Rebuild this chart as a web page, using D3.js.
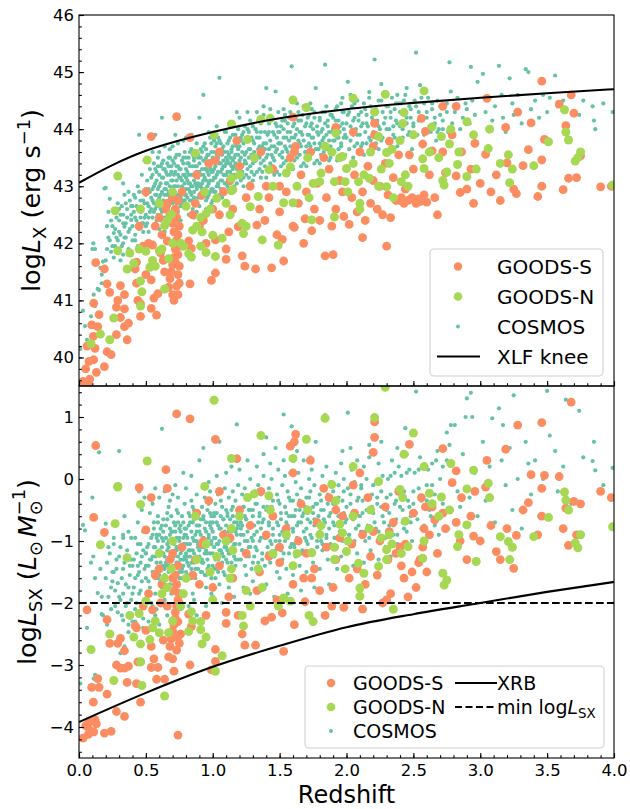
<!DOCTYPE html>
<html>
<head>
<meta charset="utf-8">
<script src="https://cdn.jsdelivr.net/npm/d3@7"></script>
<style>
body { margin: 0; background: #fff; }
svg text { font-family: "DejaVu Sans", sans-serif; fill: #000; }
</style>
</head>
<body>
<div id="chart"></div>
<script>
// ---- data: [redshift, logLX, logLSX] ----
var goodsS = [
  [0.03,39.58,-4.18],[0.07,39.54,-4.12],[0.08,39.62,-4.05],[0.05,39.8,-3.98],[0.075,39.93,-3.92],[0.11,39.96,-4.08],
  [0.13,39.74,-3.95],[0.19,39.84,-4.1],[0.12,40.16,-3.88],[0.107,40.37,-3.6],[0.095,40.57,-3.36],[0.14,40.54,-3.22],
  [0.21,40.1,-3.47],[0.24,40.05,-4.07],[0.28,40.4,-3.75],[0.34,40.54,-3.83],[0.36,40.31,-3.28],[0.28,40.88,-3.0],
  [0.34,40.85,-2.77],[0.31,41.26,-2.57],[0.34,41.1,-3.05],[0.23,41.14,-2.65],[0.21,41.29,-2.27],[0.125,41.66,0.54],
  [0.15,40.75,-3.36],[0.11,40.95,-0.62],[0.19,41.55,-0.86],[0.06,40.2,-2.11],[0.29,41.0,-2.65],[0.37,40.6,-3.02],
  [0.31,40.7,-3.05],
  [0.42,41.55,-2.37],[0.43,41.67,-2.4],[0.43,41.3,-3.3],[0.46,40.94,-2.95],[0.46,40.72,-3.6],[0.44,41.0,-2.95],
  [0.5,41.45,-2.44],[0.54,40.86,-3.04],[0.56,41.04,-2.9],[0.58,40.74,-3.23],[0.54,41.36,-2.7],[0.55,41.97,-2.11],
  [0.59,41.12,-3.04],[0.61,41.83,-2.0],[0.62,42.15,-1.7],[0.6,42.45,-1.45],[0.57,42.3,-1.55],[0.52,42.0,-1.85],
  [0.48,41.95,-2.05],[0.64,41.5,-3.23],[0.63,41.7,-2.6],[0.54,43.87,-0.3],[0.5,42.9,-0.82],[0.45,42.3,-0.14],
  [0.66,42.04,-2.05],[0.67,41.23,-2.87],[0.68,41.38,-2.7],[0.69,41.5,-2.58],[0.7,41.1,-2.9],[0.7,41.62,-2.45],
  [0.71,41.75,-2.35],[0.72,41.67,-2.25],[0.72,41.9,-2.15],[0.73,41.25,-2.76],[0.73,42.05,-2.05],[0.74,41.45,-2.55],
  [0.74,41.8,-2.3],[0.74,42.15,-1.95],[0.74,41.1,-4.13],[0.75,42.3,-1.85],[0.73,42.45,-1.7],[0.72,42.6,-1.55],
  [0.74,42.75,-1.4],[0.71,42.2,-1.8],[0.75,41.3,-2.65],[0.76,41.95,-2.5],[0.68,42.5,-1.3],[0.7,42.35,-1.6],
  [0.73,44.22,1.05],[0.77,42.9,-1.1],[0.71,41.0,-3.1],[0.75,41.6,-2.0],[0.7,42.8,-1.2],[0.65,42.6,0.15],[0.66,42.7,-0.15],
  [0.82,42.04,-2.18],[0.84,41.91,-2.38],[0.83,41.29,-3.0],[0.85,42.5,-1.55],[0.87,42.7,-1.3],[0.83,43.85,0.97],
  [0.9,42.3,-1.7],[0.92,42.85,-1.05],[0.95,42.0,-2.2],[0.99,41.35,-3.08],[1.02,41.48,-2.94],[1.02,42.06,-2.75],
  [1.05,42.5,-1.4],[1.08,42.9,-0.9],[1.1,41.72,-2.33],[1.1,41.9,-2.15],[1.12,42.2,-1.9],[1.13,43.1,-0.95],
  [1.15,42.6,-1.6],[1.19,42.29,-2.2],[1.2,43.35,-0.5],[1.22,41.78,-2.5],[1.24,41.6,-2.68],[1.25,42.8,-1.2],
  [1.28,43.0,-0.75],[0.97,43.4,-0.35],[1.05,43.6,-0.2],[1.18,43.8,0.33],[0.88,43.2,-0.55],[1.0,42.6,-1.75],
  [1.02,43.45,0.64],[0.93,42.4,-1.0],
  [1.32,41.55,-2.68],[1.33,42.32,-1.8],[1.35,42.6,-1.5],[1.39,42.4,-2.29],[1.4,43.0,-0.9],[1.42,42.8,-1.25],
  [1.44,41.57,-2.23],[1.45,43.3,-0.6],[1.48,42.15,-1.95],[1.5,42.55,-1.35],[1.52,42.07,-2.16],[1.53,41.69,-2.78],
  [1.55,42.9,-0.8],[1.58,43.5,0.53],[1.6,42.3,-1.7],[1.61,42.28,-2.35],[1.62,43.7,0.72],[1.61,43.6,0.6],
  [1.64,42.7,-1.0],[1.66,43.2,-0.4],[1.69,42.43,-1.98],[1.7,42.9,-1.2],[1.73,43.6,0.3],[1.74,42.22,-1.6],
  [1.76,42.6,-1.45],[1.78,43.05,-0.7],[1.8,42.4,-1.8],[1.84,41.78,-2.2],[1.85,42.8,-1.1],[1.87,43.3,-0.3],
  [1.89,42.3,-2.05],[1.9,41.8,-1.75],[1.92,42.6,-1.3],[1.95,43.1,-0.95],[1.98,42.47,-2.07],[1.97,42.9,-0.6],
  [1.5,43.0,-1.1],[1.36,43.6,-0.2],[1.6,44.21,0.1],[1.83,43.5,-0.15],[1.68,42.0,-1.6],[1.92,44.03,-0.5],
  [2.02,42.33,-1.6],[2.04,42.8,-1.05],[2.06,43.2,-0.55],[2.08,42.55,-1.45],[2.1,43.6,0.1],[2.12,42.9,-0.9],
  [2.14,42.4,-1.7],[2.16,43.35,-0.3],[2.18,42.7,-1.25],[2.2,43.1,-0.85],[2.21,43.9,0.67],[2.21,44.1,0.92],
  [2.2,43.7,0.43],[2.23,42.6,-1.55],[2.25,43.0,-1.0],[2.27,42.5,-2.0],[2.29,43.4,-0.45],[2.31,42.85,-1.3],
  [2.32,43.79,-0.85],[2.33,42.45,-1.85],[2.35,43.15,-0.7],[2.37,42.75,-1.2],[2.39,43.55,-0.2],[2.41,42.8,-1.4],
  [2.43,42.7,-1.6],[2.44,42.95,-1.05],[2.46,42.75,-1.9],[2.47,43.55,0.56],[2.49,42.8,-1.5],[2.5,43.3,-0.55],
  [2.52,42.7,-1.75],[2.54,42.78,-1.35],[2.56,44.19,-0.3],[2.57,43.74,-1.1],[2.58,42.85,-0.8],[2.59,43.96,-0.45],
  [2.6,42.72,-1.5],[2.62,43.2,-0.9],[2.64,43.62,-0.45],[2.66,42.8,-0.66],[2.68,42.5,-1.2],[2.3,41.95,-1.95],
  [2.12,42.1,-2.1],[2.4,42.75,-1.1],[2.55,42.73,-1.3],[2.05,43.95,-0.1],
  [2.72,44.4,0.49],[2.72,43.6,-0.55],[2.74,43.24,-0.8],[2.79,43.9,-0.06],[2.82,44.4,0.13],[2.82,43.18,-0.7],
  [2.85,42.89,-1.0],[2.86,43.6,-0.3],[2.9,42.95,-1.3],[2.93,43.3,-0.6],[2.95,42.7,-0.92],[2.96,43.75,-0.2],
  [3.0,43.05,-1.0],[3.04,43.56,-0.13],[3.05,44.54,0.3],[3.08,42.9,-0.75],[3.12,43.2,-1.17],[3.15,42.75,-1.3],
  [3.19,44.03,0.48],[3.2,43.41,-0.8],[3.25,42.95,-1.44],[3.27,42.87,-0.91],[3.28,44.3,0.87],[3.32,43.36,-0.5],
  [3.36,43.64,-0.38],[3.38,44.11,0.07],[3.43,42.82,-0.9],[3.46,43.46,-0.15],[3.46,44.84,0.91],[3.46,43.0,-0.6],
  [3.48,43.82,0.06],[3.59,44.44,0.04],[3.62,42.94,-0.8],[3.64,44.06,-0.47],[3.66,43.14,-1.07],[3.68,44.6,1.24],
  [3.7,44.28,-0.36],[3.72,43.15,-0.9],[3.75,43.53,-0.4],[3.9,42.99,-0.2],[3.98,43.0,-0.3]
];

var goodsN = [
  [0.09,40.24,-2.75],[0.16,40.41,-1.06],[0.23,40.31,-2.5],[0.26,40.69,-3.25],[0.29,41.87,-0.13],[0.27,42.57,-0.72],
  [0.36,41.55,-1.27],[0.38,41.83,-2.2],[0.41,41.65,-2.55],[0.46,41.34,-2.66],[0.47,41.15,-3.33],[0.46,40.9,-2.95],
  [0.45,41.9,-2.17],[0.29,43.18,-0.12],[0.5,41.86,-1.97],[0.51,43.46,0.29],[0.46,42.6,-0.41],
  [0.53,41.58,-2.59],[0.55,41.7,-2.4],[0.57,41.6,-2.29],[0.6,41.87,-2.48],[0.62,41.9,-1.85],[0.64,41.2,-3.5],
  [0.64,42.31,-1.6],[0.66,42.4,-1.75],[0.67,41.73,-2.48],[0.69,42.51,-1.45],[0.7,42.0,-2.29],[0.76,42.0,-2.05],
  [0.78,41.95,-1.85],[0.82,41.82,-2.46],[0.84,41.76,-2.14],[0.85,42.23,-2.29],[0.87,43.58,-0.6],[0.88,42.3,-1.3],
  [0.91,42.45,-2.3],[0.91,41.95,-2.43],[0.92,42.2,-2.66],[0.94,42.9,-0.12],[0.95,42.52,-1.05],[0.95,41.84,-2.55],
  [0.98,42.6,-1.5],[0.7,42.9,-1.0],[0.6,42.7,-1.2],[0.8,42.65,-1.6],
  [1.0,42.14,-1.95],[1.01,43.9,1.27],[1.02,41.77,-3.1],[1.03,42.79,-1.25],[1.07,42.09,-2.85],[1.1,42.7,-1.0],
  [1.13,42.5,-1.6],[1.14,44.09,0.33],[1.14,43.14,-0.8],[1.14,42.92,-1.45],[1.15,42.94,-1.15],[1.2,43.2,-0.6],
  [1.22,42.35,-2.2],[1.23,42.17,-2.37],[1.25,42.3,-1.8],[1.26,43.82,-0.3],[1.28,42.64,-2.05],[1.31,43.5,-0.24],
  [1.34,42.82,-1.45],[1.36,44.17,0.7],[1.37,42.06,-1.75],[1.42,43.29,-0.27],[1.43,44.19,-0.5],[1.45,43.0,-1.2],
  [1.49,41.97,-2.05],
  [1.53,42.71,-1.92],[1.55,43.23,-0.9],[1.58,43.34,-1.97],[1.6,42.71,-1.4],[1.6,44.51,0.33],[1.63,43.0,-1.2],
  [1.7,44.38,0.64],[1.71,43.5,-0.5],[1.72,42.8,-2.2],[1.74,42.41,-1.19],[1.75,43.05,-2.3],[1.8,43.08,-0.9],
  [1.81,43.23,-0.75],[1.84,43.7,0.98],[1.89,43.6,-0.09],[1.91,42.46,-1.3],[1.91,43.08,-1.1],[1.92,43.93,-0.35],
  [1.95,43.5,-0.73],[1.97,43.52,-0.87],[1.99,43.08,-1.45],
  [2.0,43.31,-1.17],[2.01,42.9,-1.0],[2.05,43.4,-0.6],[2.05,44.54,0.2],[2.09,43.08,-1.36],[2.1,42.7,-1.76],
  [2.1,42.6,-1.89],[2.13,43.2,-1.52],[2.17,43.14,-0.8],[2.18,43.6,-0.5],[2.21,44.3,0.99],[2.24,43.87,-0.04],
  [2.24,43.0,-1.41],[2.26,43.3,-0.95],[2.29,44.61,1.48],[2.3,43.59,-1.14],[2.3,42.99,-1.3],[2.32,43.4,-0.9],
  [2.34,43.65,-1.05],[2.35,42.8,-2.1],[2.4,43.8,-0.17],[2.41,43.08,-1.2],[2.42,44.1,-0.3],[2.43,44.29,0.4],
  [2.44,43.2,-0.68],[2.46,43.0,-1.09],[2.5,43.9,0.74],
  [2.57,43.48,-1.28],[2.58,44.67,0.2],[2.58,43.31,-1.0],[2.62,43.6,-0.23],[2.64,44.04,-0.4],[2.69,43.5,-0.6],
  [2.71,43.87,-0.29],[2.72,43.1,-1.52],[2.73,43.02,-1.71],[2.75,43.25,-1.63],[2.77,43.74,-0.5],[2.78,44.0,0.25],
  [2.83,43.38,-1.09],[2.84,43.6,-0.9],[2.9,44.13,-0.16],[2.9,43.17,-0.74],[2.95,43.9,0.14],[2.97,43.3,-1.33],
  [3.06,43.66,-0.07],[3.07,44.0,-0.3],[3.15,43.4,-0.93],[3.21,43.55,-1.01],[3.22,43.06,-1.3],[3.24,43.3,-1.1],
  [3.4,43.36,-0.93],[3.51,43.78,-0.62],[3.63,44.34,-0.21],[3.64,43.95,-0.34],[3.66,43.81,-0.5],[3.71,43.44,-1.03],
  [3.73,43.5,-1.11],[3.75,43.6,-0.9],[3.99,43.02,-0.77]
];

var cosmos = [
  [0.01,40.15,-3.3],[0.03,40.82,-0.74],[0.045,40.55,-0.83],[0.06,40.31,-2.4],[0.09,40.72,-1.35],
  [0.1,41.9,-0.3],[0.107,42.0,-1.25],[0.11,41.1,-3.22],[0.12,41.9,-1.6],[0.14,41.2,-1.84],[0.15,41.18,0.43],
  [0.17,41.45,-1.9],[0.18,41.68,-2.2],[0.19,42.96,-0.9],[0.16,41.57,-1.45],
  [0.2,42.97,-0.72],[0.2,41.7,-1.6],[0.21,41.9,-2.35],[0.22,42.1,-1.1],[0.23,42.78,-2.5],[0.24,41.85,-1.75],
  [0.25,42.3,-1.5],[0.26,42.18,-0.95],[0.27,41.95,-2.05],[0.28,42.45,-1.3],[0.29,42.05,-1.68],[0.3,42.6,0.45],
  [0.3,42.2,-1.9],[0.31,42.5,-1.1],[0.32,41.95,-2.2],[0.33,42.35,-1.45],[0.34,42.29,-0.6],[0.35,42.7,-1.25],
  [0.35,42.1,-1.7],[0.36,42.45,-2.0],[0.37,42.9,-0.85],[0.38,42.25,-1.55],[0.39,42.41,-1.3],[0.39,42.65,-1.95],
  [0.33,43.05,-0.95],[0.37,41.9,-2.35],
  [0.4,42.3,-1.4],[0.41,42.55,-1.75],[0.42,42.8,-0.95],[0.42,42.15,-2.1],[0.43,42.4,-1.2],[0.44,43.0,-0.7],
  [0.44,42.6,-1.55],[0.45,42.25,-1.85],[0.46,42.75,-1.05],[0.46,42.45,-1.35],[0.47,42.59,-1.65],[0.47,43.2,-0.5],
  [0.48,42.9,-1.15],[0.48,42.35,-2.25],[0.49,42.7,-1.45],[0.49,43.45,-0.3],[0.45,43.9,-0.2],
  [0.5,42.5,-1.6],[0.5,42.85,-1.2],[0.51,43.1,-0.85],[0.51,42.35,-1.9],[0.52,42.65,-1.4],[0.52,42.95,-1.05],
  [0.53,43.3,-0.55],[0.53,42.55,-1.75],[0.54,42.8,-1.3],[0.54,43.15,-0.95],[0.55,42.45,-2.05],[0.55,42.95,-1.5],
  [0.56,42.7,-1.1],[0.56,43.4,-0.7],[0.57,42.6,-1.85],[0.57,43.05,-1.25],[0.58,42.85,-0.9],[0.58,43.25,-1.45],
  [0.59,42.5,-1.6],[0.59,42.75,-1.0],[0.55,43.6,-0.4],[0.57,43.9,-0.15],[0.52,42.2,-2.3],[0.58,42.4,-2.1],
  [0.59,43.5,-0.6],
  [0.6,42.65,-1.55],[0.6,43.0,-1.15],[0.61,42.85,-1.35],[0.61,43.35,-0.8],[0.62,42.55,-1.75],[0.62,43.15,-0.95],
  [0.63,42.75,-1.2],[0.63,43.45,-0.65],[0.64,42.95,-1.45],[0.64,42.45,-1.95],[0.65,43.25,-0.75],[0.65,42.7,-1.6],
  [0.66,43.05,-1.05],[0.66,42.6,-1.3],[0.67,43.5,-0.45],[0.67,42.9,-1.5],[0.68,42.8,-0.9],[0.68,43.2,-1.25],
  [0.69,42.5,-1.85],[0.69,43.1,-0.6],[0.6,43.6,-0.3],[0.62,44.2,0.81],[0.64,43.7,-0.2],[0.66,42.35,-2.2],
  [0.68,43.65,-0.35],[0.61,42.4,-1.7],[0.63,43.3,-1.0],[0.65,42.95,-1.4],[0.67,42.75,-1.1],[0.69,43.35,-0.85],
  [0.66,43.4,-0.55],
  [0.7,42.7,-1.4],[0.7,43.1,-1.0],[0.71,42.9,-1.25],[0.71,43.4,-0.7],[0.72,42.6,-1.6],[0.72,43.25,-0.85],
  [0.73,42.8,-1.1],[0.73,43.55,-0.5],[0.74,43.0,-1.35],[0.74,42.55,-1.8],[0.75,43.3,-0.95],[0.75,42.85,-1.5],
  [0.76,43.15,-0.75],[0.76,42.65,-1.2],[0.77,43.45,-0.6],[0.77,42.95,-1.45],[0.78,42.75,-1.05],[0.78,43.2,-1.3],
  [0.79,43.6,-0.4],[0.79,43.05,-0.9],[0.7,43.7,-0.25],[0.72,42.45,-2.0],[0.74,43.75,-0.3],[0.76,42.4,-2.1],
  [0.78,43.8,0.1],[0.71,43.0,-1.7],[0.73,43.35,-1.15],[0.75,42.7,-0.8],[0.77,43.1,-1.6],[0.79,42.85,-1.25],
  [0.72,43.9,-0.1],[0.74,43.2,-0.55],[0.76,42.9,-1.85],[0.78,43.5,-0.7],[0.7,42.35,-2.3],
  [0.8,42.85,-1.3],[0.8,43.3,-0.8],[0.81,42.65,-1.55],[0.81,43.1,-1.05],[0.82,43.5,-0.55],[0.82,42.95,-1.4],
  [0.83,42.75,-1.15],[0.83,43.35,-0.7],[0.84,43.0,-1.6],[0.84,43.65,-0.35],[0.85,42.6,-1.85],[0.85,43.2,-0.95],
  [0.86,42.9,-1.2],[0.86,43.45,-0.65],[0.87,43.05,-1.45],[0.87,42.7,-1.0],[0.88,43.25,-0.85],[0.88,43.75,-0.25],
  [0.89,42.8,-1.7],[0.89,43.15,-1.1],[0.8,43.85,-0.15],[0.82,42.5,-2.05],[0.84,43.9,0.05],[0.86,42.45,-1.95],
  [0.88,42.55,-2.2],[0.81,43.4,-1.25],[0.83,43.05,-0.6],[0.85,43.55,-0.45],[0.87,43.35,-1.55],[0.89,43.5,-0.75],
  [0.8,42.95,-0.9],[0.82,43.2,-1.15],[0.84,42.85,-1.35],[0.86,43.1,-0.5],[0.88,43.0,-1.0],
  [0.9,43.0,-1.25],[0.9,43.4,-0.75],[0.91,42.8,-1.5],[0.91,43.2,-1.0],[0.92,43.6,-0.45],[0.92,43.05,-1.35],
  [0.93,42.9,-1.1],[0.93,43.45,-0.6],[0.94,43.15,-1.55],[0.94,43.75,-0.3],[0.95,42.75,-1.75],[0.95,43.3,-0.85],
  [0.96,43.0,-1.2],[0.96,43.55,-0.5],[0.97,43.2,-1.4],[0.97,42.85,-0.95],[0.98,43.35,-0.7],[0.98,43.85,-0.2],
  [0.99,42.95,-1.6],[0.99,43.25,-1.05],[0.9,44.2,0.3],[0.93,44.6,0.5],[0.95,42.6,-2.05],[0.97,43.95,-0.05],
  [0.99,42.7,-1.85],[0.91,43.65,-0.9],[0.93,43.1,-0.65],[0.95,43.5,-1.15],[0.97,43.4,-0.4],[0.99,43.6,-0.8],
  [0.92,42.95,-1.3],[0.94,43.3,-1.0],[0.96,42.9,-1.45],[0.98,43.1,-0.55],[0.9,42.65,-1.7],
  [1.0,43.1,-1.2],[1.0,43.5,-0.7],[1.01,42.9,-1.45],[1.01,43.3,-0.95],[1.02,43.7,-0.4],[1.02,43.15,-1.3],
  [1.03,43.0,-1.05],[1.03,43.55,-0.55],[1.04,43.25,-1.5],[1.04,43.85,-0.25],[1.05,44.9,0.6],[1.05,42.85,-1.7],
  [1.06,43.4,-0.8],[1.06,43.1,-1.15],[1.07,43.65,-0.45],[1.07,43.3,-1.35],[1.08,42.95,-0.9],[1.08,43.45,-0.65],
  [1.09,43.95,-0.15],[1.09,43.05,-1.55],[1.0,42.75,-1.9],[1.03,44.05,0.05],[1.05,43.6,-1.0],[1.07,42.8,-2.0],
  [1.09,43.35,-1.1],[1.01,43.8,-0.6],[1.04,43.0,-0.75],[1.06,43.75,-0.35],[1.08,43.2,-1.25],[1.02,43.4,-1.6],
  [1.1,43.5,-0.5],
  [1.1,43.2,-1.1],[1.11,43.6,-0.6],[1.11,43.0,-1.35],[1.12,43.4,-0.85],[1.12,43.8,-0.3],[1.13,43.25,-1.2],
  [1.13,43.05,-0.95],[1.14,43.65,-0.5],[1.14,43.35,-1.45],[1.15,43.9,-0.2],[1.15,43.1,-1.6],[1.16,43.5,-0.7],
  [1.16,43.2,-1.05],[1.17,43.75,-0.35],[1.17,43.4,-1.3],[1.18,44.3,0.88],[1.18,43.05,-0.8],[1.19,43.55,-0.55],
  [1.19,44.0,-0.1],[1.1,43.95,0.1],[1.12,42.95,-1.75],[1.14,44.1,0.2],[1.16,43.0,-1.9],[1.18,43.7,-0.9],
  [1.13,43.5,-1.0],[1.15,43.3,-0.45],[1.17,43.15,-1.4],[1.19,43.3,-0.75],[1.11,43.45,-1.15],
  [1.2,43.3,-1.05],[1.2,43.7,-0.55],[1.21,43.1,-1.3],[1.21,43.5,-0.8],[1.22,43.9,-0.25],[1.22,43.35,-1.15],
  [1.23,43.15,-0.9],[1.23,43.75,-0.45],[1.24,43.45,-1.4],[1.24,44.05,-0.15],[1.25,43.2,-1.55],[1.25,43.6,-0.65],
  [1.26,43.3,-1.0],[1.26,43.85,-0.3],[1.27,43.5,-1.25],[1.27,43.15,-0.75],[1.28,43.65,-0.5],[1.28,44.15,0.0],
  [1.29,43.25,-1.45],[1.29,43.55,-0.95],[1.2,44.2,0.15],[1.23,43.0,-1.75],[1.26,44.3,0.3],[1.28,43.05,-1.85],
  [1.21,43.8,-0.7],[1.24,43.4,-0.6],[1.27,43.95,-1.1],
  [1.3,43.4,-1.0],[1.3,43.8,-0.5],[1.31,43.2,-1.25],[1.31,43.6,-0.75],[1.32,44.0,-0.2],[1.32,43.45,-1.1],
  [1.33,43.25,-0.85],[1.33,43.85,-0.4],[1.34,43.55,-1.35],[1.34,44.15,-0.1],[1.35,43.3,-1.5],[1.35,43.7,-0.6],
  [1.36,43.4,-0.95],[1.36,43.95,-0.25],[1.37,43.6,-1.2],[1.37,43.25,-0.7],[1.38,43.75,-0.45],[1.38,44.25,0.05],
  [1.39,43.35,-1.4],[1.39,43.65,-0.9],[1.3,43.1,-1.65],[1.33,44.3,0.2],[1.36,43.15,-1.8],[1.38,44.4,0.4],
  [1.4,44.72,0.67],
  [1.4,43.5,-0.95],[1.41,43.3,-1.2],[1.41,43.9,-0.45],[1.42,43.65,-0.7],[1.42,44.1,-0.15],[1.43,43.4,-1.35],
  [1.43,43.8,-0.55],[1.44,43.55,-1.05],[1.44,44.2,0.0],[1.45,43.35,-0.8],[1.45,43.95,-0.35],[1.46,43.7,-1.25],
  [1.46,43.45,-0.6],[1.47,44.66,0.5],[1.47,43.6,-1.0],[1.48,44.05,-0.25],[1.48,43.25,-1.5],[1.49,43.75,-0.75],
  [1.49,44.3,0.15],[1.4,43.15,-1.7],[1.43,44.35,0.25],[1.46,43.2,-1.9],[1.48,43.85,-1.1],
  [1.5,43.55,-0.9],[1.5,43.95,-0.4],[1.51,43.35,-1.15],[1.51,43.75,-0.65],[1.52,44.15,-0.1],[1.52,43.6,-1.3],
  [1.53,43.4,-0.8],[1.53,44.0,1.04],[1.54,43.7,-1.0],[1.54,44.25,0.05],[1.55,43.45,-1.45],[1.55,43.85,-0.55],
  [1.56,43.6,-0.75],[1.56,44.1,-0.2],[1.57,43.8,-1.2],[1.57,43.35,-0.6],[1.58,43.95,-0.35],[1.59,45.1,0.85],
  [1.59,43.5,-1.05],[1.5,43.2,-1.6],[1.53,44.35,0.3],[1.56,43.25,-1.85],[1.58,44.3,0.1],
  [1.6,43.65,-0.85],[1.6,44.05,-0.35],[1.61,43.45,-1.1],[1.61,43.85,-0.6],[1.62,44.2,-0.05],[1.62,43.7,-1.25],
  [1.63,43.5,-0.75],[1.63,44.0,-0.25],[1.64,43.8,-1.0],[1.64,44.3,0.1],[1.65,43.55,-1.4],[1.65,43.95,-0.5],
  [1.66,43.7,-0.7],[1.66,44.15,-0.15],[1.67,43.9,-1.15],[1.68,43.4,-0.55],[1.68,44.4,0.3],[1.69,43.6,-0.95],
  [1.6,43.3,-1.55],[1.63,44.45,0.45],[1.66,43.35,-1.8],
  [1.7,43.7,-0.8],[1.7,44.1,-0.3],[1.71,43.5,-1.05],[1.71,43.9,-0.55],[1.72,44.25,0.0],[1.72,43.75,-1.2],
  [1.73,43.55,-0.7],[1.73,44.05,-0.2],[1.74,43.85,-0.95],[1.74,44.35,0.15],[1.75,43.6,-1.35],[1.75,44.0,-0.45],
  [1.76,43.75,-0.65],[1.76,44.2,-0.1],[1.77,44.72,0.6],[1.78,43.45,-1.1],[1.78,43.95,-0.4],[1.79,43.65,-0.9],
  [1.7,43.35,-1.5],[1.73,44.45,0.35],[1.76,43.4,-1.75],
  [1.8,43.75,-0.75],[1.8,44.15,-0.25],[1.81,43.55,-1.0],[1.81,43.95,-0.5],[1.82,44.3,0.05],[1.82,43.8,-1.15],
  [1.83,43.6,-0.65],[1.84,45.13,1.03],[1.84,44.1,-0.15],[1.85,43.9,-0.9],[1.85,44.4,0.2],[1.86,43.65,-1.3],
  [1.86,44.05,-0.4],[1.87,43.8,-0.6],[1.88,44.25,-0.05],[1.88,43.5,-1.05],[1.89,43.95,-0.35],[1.8,43.4,-1.45],
  [1.87,43.45,-1.7],
  [1.9,43.8,-0.7],[1.9,44.2,-0.2],[1.91,43.6,-0.95],[1.92,44.0,-0.45],[1.92,44.35,0.1],[1.93,43.85,-1.1],
  [1.94,43.65,-0.6],[1.94,44.15,-0.1],[1.95,43.95,-0.85],[1.96,44.45,0.25],[1.96,43.7,-1.25],[1.97,44.1,-0.35],
  [1.98,43.85,-0.55],[1.98,44.3,0.0],[1.99,43.55,-1.0],[1.93,43.45,-1.45],[1.97,44.55,0.45],
  [2.0,43.85,-0.65],[2.01,44.25,-0.15],[2.01,44.83,1.07],[2.02,43.65,-0.9],[2.03,44.05,-0.4],[2.04,44.4,0.15],
  [2.05,43.9,-1.05],[2.06,43.7,-0.55],[2.06,44.2,-0.05],[2.07,44.0,-0.8],[2.08,44.5,0.3],[2.08,43.75,-1.2],
  [2.09,44.15,-0.3],[2.05,43.5,-1.4],[2.03,44.6,0.5],
  [2.1,43.9,-0.6],[2.11,44.3,-0.1],[2.11,43.7,-0.85],[2.12,44.1,-0.35],[2.13,44.45,0.2],[2.14,43.95,-1.0],
  [2.15,43.75,-0.5],[2.15,44.25,0.0],[2.16,44.05,-0.75],[2.17,44.55,0.35],[2.18,43.8,-1.15],[2.19,44.2,-0.25],
  [2.13,43.55,-1.35],[2.17,44.65,0.55],[2.19,43.6,-0.45],
  [2.2,43.95,-0.55],[2.21,45.22,0.9],[2.22,44.35,-0.05],[2.22,43.75,-0.8],[2.23,44.15,-0.3],[2.24,44.5,0.25],
  [2.25,44.0,-0.95],[2.26,43.8,-0.45],[2.26,44.79,0.6],[2.27,44.3,0.05],[2.28,44.1,-0.7],[2.29,43.6,-1.1],
  [2.24,43.65,-1.3],
  [2.3,44.0,-0.5],[2.31,44.4,0.0],[2.32,43.8,-0.75],[2.33,44.2,-0.25],[2.34,44.55,0.3],[2.35,44.05,-0.9],
  [2.36,43.85,-0.4],[2.36,44.35,0.1],[2.37,44.15,-0.65],[2.38,43.7,-1.05],[2.39,44.45,0.2],[2.33,43.6,-1.25],
  [2.38,44.6,0.5],
  [2.4,44.05,-0.45],[2.41,44.45,0.05],[2.42,43.85,-0.7],[2.43,44.25,-0.2],[2.44,44.6,0.82],[2.45,44.1,-0.85],
  [2.46,43.9,-0.35],[2.47,44.4,0.15],[2.48,44.2,-0.6],[2.49,43.65,-1.0],[2.45,44.72,0.4],
  [2.5,44.1,-0.4],[2.51,44.5,0.1],[2.52,45.34,1.41],[2.53,43.9,-0.65],[2.54,44.3,-0.15],[2.55,44.77,0.35],
  [2.56,44.15,-0.8],[2.57,43.7,-0.3],[2.58,44.45,0.2],[2.59,43.95,-1.0],
  [2.6,44.2,-0.35],[2.61,44.55,0.15],[2.63,43.95,-0.6],[2.64,44.35,-0.1],[2.66,44.1,-0.75],[2.67,43.8,0.3],
  [2.68,44.5,0.45],[2.69,44.0,-0.9],
  [2.7,44.25,-0.3],[2.72,44.0,0.2],[2.75,44.45,0.75],[2.77,45.17,0.55],[2.78,44.66,0.87],[2.79,44.1,-0.5],
  [2.76,43.95,-0.8],
  [2.81,44.3,0.87],[2.83,44.55,-0.2],[2.85,44.0,-0.45],[2.87,44.2,0.4],[2.89,44.45,1.0],
  [2.9,44.35,1.3],[2.92,44.1,-0.3],[2.93,45.09,1.39],[2.94,44.5,1.0],[2.96,44.25,0.1],[2.98,44.83,-0.6],
  [3.02,44.97,0.6],[3.04,44.3,-0.35],[3.07,44.55,0.2],[3.09,44.15,0.98],[3.11,44.4,-0.7],[3.14,45.11,1.14],
  [3.16,44.6,0.3],[3.17,44.2,0.87],[3.19,43.95,-0.1],
  [3.22,44.89,0.5],[3.24,44.45,-0.5],[3.25,44.25,1.35],[3.28,44.6,0.0],[3.31,44.1,-0.8],[3.34,45.05,0.6],
  [3.36,45.0,0.25],[3.38,44.35,-0.25],
  [3.41,44.5,0.3],[3.44,44.2,-0.6],[3.47,44.6,0.0],[3.5,44.3,1.42],[3.52,44.55,0.7],[3.56,44.94,0.45],
  [3.58,44.4,-0.2],
  [3.62,44.5,0.2],[3.64,44.3,1.28],[3.68,44.6,-0.4],[3.74,44.25,1.1],[3.77,44.5,0.35],
  [3.84,44.4,0.29],[3.85,44.15,0.6],[3.86,44.0,0.14],[3.92,44.45,-0.1],[3.99,44.3,0.18],
  [0.17,41.3,-2.18],[0.33,42.0,-2.28],[0.37,41.85,-2.47],[0.31,41.7,-2.81],[0.34,42.1,-2.7],[0.12,40.9,-3.16],
  [0.57,42.3,-2.2],[0.42,42.05,-2.3],[0.74,42.4,-2.48],[0.6,42.25,-2.35],[0.64,42.2,-2.05],[0.48,42.2,-2.4],
  // low-z band
  [0.21,42.3,-1.35],[0.22,42.55,-1.9],[0.23,42.05,-1.2],[0.24,42.4,-2.1],[0.25,41.95,-1.65],[0.26,42.6,-1.05],
  [0.27,42.25,-1.8],[0.28,42.1,-1.45],[0.29,42.7,-2.15],[0.3,42.4,-1.25],[0.31,42.15,-1.95],[0.32,42.65,-1.6],
  [0.33,42.5,-0.9],[0.34,42.85,-1.35],[0.35,42.35,-2.05],[0.36,42.6,-1.15],[0.37,42.2,-1.75],[0.38,42.75,-1.4],
  [0.39,42.5,-0.95],[0.4,42.05,-1.85],[0.41,42.85,-1.3],[0.42,42.45,-1.6],[0.43,42.65,-2.0],[0.44,42.3,-1.05],
  [0.45,42.9,-1.5],[0.46,42.55,-1.8],[0.47,42.35,-1.25],[0.48,42.75,-0.85],[0.49,42.45,-1.95],[0.5,42.95,-1.4],
  [0.51,42.7,-1.1],[0.52,42.45,-1.65],[0.53,42.9,-1.3],[0.54,42.6,-2.0],[0.55,43.2,-0.9],[0.26,41.75,-1.5],
  [0.33,41.8,-1.85],[0.4,42.65,-2.3],[0.44,41.95,-1.4],[0.5,42.3,-1.2],
  // dense core
  [0.55,42.75,-1.25],[0.56,43.0,-0.8],[0.56,42.55,-1.5],[0.57,42.85,-1.1],[0.57,43.3,-1.6],[0.58,42.65,-0.95],
  [0.58,43.1,-1.35],[0.59,42.95,-0.7],[0.59,43.35,-1.2],[0.6,42.8,-1.45],[0.6,43.2,-0.9],[0.61,42.6,-1.2],
  [0.61,43.05,-1.65],[0.62,42.9,-0.75],[0.62,43.4,-1.1],[0.63,42.7,-1.4],[0.63,43.15,-0.85],[0.64,42.85,-1.25],
  [0.64,43.3,-1.55],[0.65,43.05,-0.95],[0.65,42.6,-1.35],[0.66,43.2,-1.15],[0.66,42.85,-0.65],[0.67,43.35,-1.4],
  [0.67,42.65,-1.0],[0.68,43.0,-1.7],[0.68,43.5,-0.8],[0.69,42.75,-1.2],[0.69,43.25,-1.45],[0.7,42.95,-0.85],
  [0.7,43.45,-1.3],[0.71,42.75,-1.05],[0.71,43.2,-1.55],[0.72,43.0,-0.75],[0.72,43.5,-1.15],[0.73,42.7,-1.35],
  [0.73,43.1,-0.95],[0.74,43.35,-1.25],[0.74,42.85,-0.7],[0.75,43.15,-1.6],[0.75,43.55,-1.0],[0.76,42.8,-1.3],
  [0.76,43.3,-0.85],[0.77,43.0,-1.15],[0.77,42.7,-1.5],[0.78,43.4,-0.95],[0.78,42.95,-1.4],[0.79,43.2,-1.05],
  [0.79,42.75,-0.8],[0.8,43.15,-1.5],[0.8,43.5,-1.2],[0.81,42.8,-0.95],[0.81,43.25,-1.35],[0.82,43.05,-0.75],
  [0.82,43.4,-1.6],[0.83,42.9,-1.05],[0.83,43.6,-1.25],[0.84,43.2,-0.85],[0.84,42.75,-1.45],[0.85,43.35,-1.15],
  [0.85,43.0,-0.7],[0.86,43.5,-1.35],[0.86,42.8,-1.0],[0.87,43.2,-1.6],[0.87,43.6,-0.9],[0.88,42.95,-1.25],
  [0.88,43.35,-0.75],[0.89,43.05,-1.45],[0.89,43.55,-1.05],[0.9,42.85,-1.15],[0.9,43.25,-0.85],[0.91,43.5,-1.3],
  [0.91,43.0,-0.65],[0.92,43.3,-1.5],[0.92,42.8,-1.1],[0.93,43.7,-0.95],[0.93,43.2,-1.35],[0.94,42.95,-0.8],
  [0.94,43.45,-1.2],[0.95,43.1,-1.55],[0.95,43.65,-0.7],[0.96,43.25,-1.05],[0.96,42.8,-1.3],[0.97,43.55,-0.9],
  [0.97,43.05,-1.45],[0.98,43.3,-0.75],[0.98,42.9,-1.2],[0.99,43.45,-1.0],[0.99,43.75,-0.6],[1.0,43.25,-1.4],
  [1.0,42.95,-0.85],[1.01,43.6,-1.1],[1.01,43.15,-0.55],[1.02,43.35,-1.25],[1.02,42.9,-0.95],[1.03,43.75,-1.45],
  [1.03,43.2,-0.7],[1.04,43.5,-1.05],[1.04,43.05,-1.3],[1.05,43.4,-0.8],[1.05,43.8,-1.15],[1.06,43.25,-0.6],
  [1.06,42.95,-1.4],[1.07,43.55,-0.9],[1.07,43.1,-1.2],[1.08,43.7,-0.65],[1.08,43.35,-1.5],[1.09,43.2,-0.85],
  [1.09,43.6,-1.1],[1.1,43.05,-0.75],[1.1,43.4,-1.3],[1.11,43.75,-0.95],[1.11,43.25,-0.55],[1.12,43.55,-1.2],
  [1.12,43.15,-0.8],[1.13,43.85,-1.0],[1.13,43.4,-0.65],[1.14,43.2,-1.35],[1.14,43.6,-0.85],[1.15,43.45,-1.1],
  // mid-z cloud
  [1.15,43.7,-0.6],[1.16,43.35,-1.25],[1.17,43.55,-0.85],[1.17,43.9,-1.05],[1.18,43.3,-0.7],[1.19,43.65,-1.3],
  [1.2,43.45,-0.55],[1.21,43.85,-0.9],[1.22,43.6,-1.15],[1.22,43.25,-0.75],[1.23,43.95,-0.45],[1.24,43.55,-1.0],
  [1.25,43.8,-0.65],[1.25,43.4,-1.25],[1.26,44.0,-0.85],[1.27,43.65,-0.5],[1.28,43.35,-1.1],[1.29,43.85,-0.75],
  [1.3,43.55,-1.35],[1.3,44.05,-0.6],[1.31,43.75,-0.9],[1.32,43.45,-0.4],[1.33,43.95,-1.15],[1.34,43.65,-0.7],
  [1.35,43.85,-1.0],[1.35,43.5,-0.55],[1.36,44.1,-0.8],[1.37,43.7,-1.3],[1.38,43.45,-0.65],[1.39,43.95,-0.95],
  [1.4,43.75,-0.5],[1.41,43.55,-1.1],[1.42,43.95,-0.75],[1.43,44.15,-1.0],[1.44,43.7,-0.45],[1.45,43.5,-0.9],
  [1.46,43.9,-0.6],[1.47,44.1,-1.15],[1.48,43.65,-0.7],[1.49,43.95,-0.35],[1.5,43.75,-1.0],[1.51,44.05,-0.55],
  [1.52,43.5,-0.85],[1.53,43.85,-1.2],[1.54,44.15,-0.45],[1.55,43.65,-0.7],[1.56,43.95,-0.95],[1.57,44.2,-0.3],
  [1.58,43.7,-1.1],[1.59,43.85,-0.6],[1.6,43.55,-0.8],[1.61,44.1,-1.05],[1.62,43.9,-0.5],[1.63,43.6,-0.95],
  [1.64,44.15,-0.7],[1.65,43.75,-0.35],[1.66,43.95,-1.2],[1.67,44.25,-0.6],[1.68,43.8,-0.85],[1.69,44.05,-0.45],
  [1.7,43.6,-1.0],[1.71,44.2,-0.65],[1.72,43.9,-0.3],[1.73,43.7,-0.9],[1.74,44.1,-1.15],[1.75,43.85,-0.55],
  [1.76,44.3,-0.75],[1.77,43.65,-0.4],[1.78,44.05,-1.0],[1.79,43.9,-0.6],[1.8,44.2,-0.85],[1.81,43.7,-0.35],
  [1.82,44.0,-1.05],[1.83,43.85,-0.5],[1.84,44.3,-0.7],[1.85,43.65,-0.95],[1.86,44.15,-0.25],[1.87,43.95,-0.8],
  [1.88,43.7,-0.55],[1.89,44.25,-1.1],[1.9,44.0,-0.4],[1.91,43.8,-0.75],[1.92,44.15,-0.95],[1.93,44.4,-0.5],
  [1.94,43.85,-0.3],[1.95,44.05,-0.85],[1.96,43.75,-0.6],[1.97,44.3,-1.0],[1.98,44.0,-0.2],[1.99,43.9,-0.7],
  // z 2 - 2.8 cloud
  [2.0,44.1,-0.45],[2.02,44.3,-0.9],[2.03,43.8,-0.25],[2.05,44.15,-0.65],[2.06,44.45,-1.0],[2.08,43.9,-0.35],
  [2.09,44.25,-0.75],[2.11,44.05,-0.15],[2.12,43.75,-0.55],[2.14,44.35,-0.85],[2.15,44.1,-0.3],[2.17,43.85,-0.95],
  [2.18,44.4,-0.5],[2.2,44.15,-0.1],[2.21,43.9,-0.7],[2.23,44.3,-0.4],[2.24,44.05,-0.85],[2.26,44.5,-0.2],
  [2.27,43.85,-0.6],[2.29,44.2,-0.95],[2.3,44.4,-0.3],[2.32,44.0,-0.55],[2.33,44.3,0.05],[2.35,43.9,-0.75],
  [2.37,44.45,-0.35],[2.38,44.1,-0.9],[2.4,44.3,-0.15],[2.42,44.0,-0.5],[2.43,44.5,-0.8],[2.45,44.2,0.1],
  [2.47,43.95,-0.45],[2.48,44.35,-0.7],[2.5,44.05,-0.2],[2.52,44.4,-0.55],[2.54,44.15,0.15],[2.56,44.55,-0.35],
  [2.58,43.9,-0.75],[2.6,44.3,-0.1],[2.62,44.05,-0.5],[2.64,44.45,0.25],[2.66,44.2,-0.25],[2.68,43.95,-0.65],
  [2.7,44.4,0.0],[2.72,44.15,-0.4],[2.75,44.3,0.3]
];

// XLF knee (top) and XRB (bottom) curves, read at a few redshifts
var kneeZ = [0, 0.25, 0.5, 0.75, 1, 1.5, 2, 2.5, 3, 3.5, 4];
var kneeL = [43.06, 43.37, 43.62, 43.8, 43.95, 44.19, 44.35, 44.46, 44.55, 44.63, 44.70];
var xrbZ = [0, 0.5, 1, 1.5, 2, 2.5, 3, 3.5, 4];
var xrbL = [-3.92, -3.45, -3.03, -2.69, -2.39, -2.18, -2.0, -1.82, -1.66];
var minLSX = -2;

var xTicks = [0, 0.5, 1, 1.5, 2, 2.5, 3, 3.5, 4];
var yTopTicks = [40, 41, 42, 43, 44, 45, 46];
var yBotTicks = [-4, -3, -2, -1, 0, 1];

var colS = "#fc8d62", colN = "#a6d854", colC = "#66c2a5";

// ---- layout ----
var width = 630, height = 809;
var left = 79, right = 614;
var top1 = 15, bot1 = 386, top2 = 386, bot2 = 758;

var svg = d3.select("#chart").append("svg")
    .attr("width", width)
    .attr("height", height);

var x = d3.scaleLinear().domain([0, 4]).range([left, right]);
var yTop = d3.scaleLinear().domain([39.5, 46]).range([bot1, top1]);
var yBot = d3.scaleLinear().domain([-4.5, 1.5]).range([bot2, top2]);

//clip paths for both panels
var defs = svg.append("defs");
defs.append("clipPath").attr("id", "clipTop").append("rect")
    .attr("x", left).attr("y", top1).attr("width", right - left).attr("height", bot1 - top1);
defs.append("clipPath").attr("id", "clipBot").append("rect")
    .attr("x", left).attr("y", top2).attr("width", right - left).attr("height", bot2 - top2);

function drawPoints(g, data, idx, y, col, r) {
    g.append("g").selectAll("circle")
        .data(data)
        .enter().append("circle")
        .attr("cx", (d) => x(d[0]))
        .attr("cy", (d) => y(d[idx]))
        .attr("r", r)
        .style("fill", col);
}

var rS = 4.4, rN = 4.5, rC = 2.1;

var gTop = svg.append("g").attr("clip-path", "url(#clipTop)");
drawPoints(gTop, cosmos, 1, yTop, colC, rC);
drawPoints(gTop, goodsS, 1, yTop, colS, rS);
drawPoints(gTop, goodsN, 1, yTop, colN, rN);

var kneeLine = d3.line()
    .x((d, i) => x(kneeZ[i]))
    .y((d) => yTop(d))
    .curve(d3.curveMonotoneX);
gTop.append("path")
    .attr("d", kneeLine(kneeL))
    .style("fill", "none")
    .style("stroke", "#000")
    .style("stroke-width", 2.1);

var gBot = svg.append("g").attr("clip-path", "url(#clipBot)");
drawPoints(gBot, cosmos, 2, yBot, colC, rC);
drawPoints(gBot, goodsS, 2, yBot, colS, rS);
drawPoints(gBot, goodsN, 2, yBot, colN, rN);

var xrbLine = d3.line()
    .x((d, i) => x(xrbZ[i]))
    .y((d) => yBot(d))
    .curve(d3.curveMonotoneX);
gBot.append("path")
    .attr("d", xrbLine(xrbL))
    .style("fill", "none")
    .style("stroke", "#000")
    .style("stroke-width", 2.1);
gBot.append("line")
    .attr("x1", left).attr("x2", right)
    .attr("y1", yBot(minLSX)).attr("y2", yBot(minLSX))
    .style("stroke", "#000")
    .style("stroke-width", 2.1)
    .style("stroke-dasharray", "7.7,3.3");

// ---- axes (ticks pointing inwards) ----
function styleAxis(g, fs) {
    g.select(".domain").remove();
    g.selectAll("line").style("stroke", "#000").style("stroke-width", 1.1);
    g.selectAll("text").style("font-size", fs + "px").style("font-family", "DejaVu Sans");
}

// top panel x ticks (no labels)
svg.append("g").attr("transform", "translate(0," + bot1 + ")")
    .call(d3.axisBottom(x).tickValues(x.ticks(40)).tickSizeInner(-2.8).tickSizeOuter(0).tickFormat(""))
    .call((g) => styleAxis(g, 16.5));
svg.append("g").attr("transform", "translate(0," + bot1 + ")")
    .call(d3.axisBottom(x).tickValues(xTicks).tickSizeInner(-4.9).tickSizeOuter(0).tickFormat(""))
    .call((g) => styleAxis(g, 16.5));

// bottom panel x ticks
svg.append("g").attr("transform", "translate(0," + bot2 + ")")
    .call(d3.axisBottom(x).tickValues(x.ticks(40)).tickSizeInner(-2.8).tickSizeOuter(0).tickFormat(""))
    .call((g) => styleAxis(g, 16.5));
svg.append("g").attr("transform", "translate(0," + bot2 + ")")
    .call(d3.axisBottom(x).tickValues(xTicks).tickSizeInner(-4.9).tickSizeOuter(0)
        .tickPadding(6).tickFormat(d3.format(".1f")))
    .call((g) => styleAxis(g, 16.5));

// top panel y
svg.append("g").attr("transform", "translate(" + left + ",0)")
    .call(d3.axisLeft(yTop).tickValues(d3.range(39.6, 46.01, 0.2)).tickSizeInner(-2.8).tickSizeOuter(0).tickFormat(""))
    .call((g) => styleAxis(g, 16.5));
svg.append("g").attr("transform", "translate(" + left + ",0)")
    .call(d3.axisLeft(yTop).tickValues(yTopTicks).tickSizeInner(-4.9).tickSizeOuter(0)
        .tickPadding(5).tickFormat(d3.format("d")))
    .call((g) => styleAxis(g, 16.5));

// bottom panel y
svg.append("g").attr("transform", "translate(" + left + ",0)")
    .call(d3.axisLeft(yBot).tickValues(d3.range(-4.4, 1.41, 0.2)).tickSizeInner(-2.8).tickSizeOuter(0).tickFormat(""))
    .call((g) => styleAxis(g, 16.5));
svg.append("g").attr("transform", "translate(" + left + ",0)")
    .call(d3.axisLeft(yBot).tickValues(yBotTicks).tickSizeInner(-4.9).tickSizeOuter(0)
        .tickPadding(5).tickFormat(d3.format("d")))
    .call((g) => styleAxis(g, 16.5));

// frames
[[top1, bot1], [top2, bot2]].forEach((p) => {
    svg.append("rect")
        .attr("x", left).attr("y", p[0])
        .attr("width", right - left).attr("height", p[1] - p[0])
        .style("fill", "none")
        .style("stroke", "#000")
        .style("stroke-width", 1.1);
});

// ---- rich text helper (mathtext-like labels) ----
// pieces: {t, s: size factor, it: italic, dy: baseline shift in em, back: stack over previous piece, gap: extra em}
function richText(g, pieces, fs) {
    var inner = g.append("g");
    var cur = 0, lastStart = 0;
    pieces.forEach((p) => {
        if (p.gap) { cur += p.gap * fs; return; }
        var start = p.back ? lastStart : cur;
        var t = inner.append("text")
            .attr("x", start)
            .attr("y", (p.dy || 0) * fs)
            .style("font-size", (fs * (p.s || 1)) + "px")
            .style("font-style", p.it ? "italic" : "normal")
            .text(p.t);
        var w = t.node().getComputedTextLength();
        lastStart = start;
        cur = Math.max(cur, start + w);
    });
    return {g: inner, w: cur};
}

// x label
svg.append("text")
    .attr("x", (left + right) / 2)
    .attr("y", 803)
    .style("text-anchor", "middle")
    .style("font-size", "24px")
    .text("Redshift");

// y labels
var lab1 = svg.append("g").attr("transform", "translate(40," + ((top1 + bot1) / 2) + ") rotate(-90)");
var r1 = richText(lab1, [
    {t: "log"}, {t: "L", it: true}, {t: "X", s: 0.7, dy: 0.22},
    {gap: 0.32}, {t: "(erg s"}, {t: "\u22121", s: 0.7, dy: -0.4}, {t: ")"}
], 25.5);
r1.g.attr("transform", "translate(" + (-r1.w / 2) + ",0)");

var lab2 = svg.append("g").attr("transform", "translate(36," + ((top2 + bot2) / 2) + ") rotate(-90)");
var r2 = richText(lab2, [
    {t: "log"}, {t: "L", it: true}, {t: "SX", s: 0.7, dy: 0.22},
    {gap: 0.32}, {t: "("}, {t: "L", it: true}, {t: "\u2299", s: 0.7, dy: 0.22},
    {gap: 0.15}, {t: "M", it: true}, {t: "\u2299", s: 0.7, dy: 0.25}, {t: "\u22121", s: 0.7, dy: -0.42, back: true},
    {t: ")"}
], 25.5);
r2.g.attr("transform", "translate(" + (-r2.w / 2) + ",0)");

// ---- legends ----
function legendBox(x0, y0, w, h) {
    svg.append("rect")
        .attr("x", x0).attr("y", y0).attr("width", w).attr("height", h)
        .attr("rx", 4)
        .style("fill", "#fff")
        .style("fill-opacity", 0.8)
        .style("stroke", "#d0d0d0")
        .style("stroke-width", 1.1);
}

legendBox(430, 249, 173, 127);
var topItems = [
    {name: "GOODS-S", col: colS, r: 4.2},
    {name: "GOODS-N", col: colN, r: 4.3},
    {name: "COSMOS", col: colC, r: 2.0}
];
topItems.forEach((d, i) => {
    var yy = 266.5 + i * 30;
    svg.append("circle").attr("cx", 458).attr("cy", yy).attr("r", d.r).style("fill", d.col);
    svg.append("text").attr("x", 497).attr("y", yy).attr("dy", "0.36em")
        .style("font-size", "20px").text(d.name);
});
svg.append("line").attr("x1", 437).attr("x2", 480).attr("y1", 356.5).attr("y2", 356.5)
    .style("stroke", "#000").style("stroke-width", 2.1);
svg.append("text").attr("x", 497).attr("y", 356.5).attr("dy", "0.36em")
    .style("font-size", "20px").text("XLF knee");

legendBox(305, 666, 299, 82);
topItems.forEach((d, i) => {
    var yy = 683 + i * 24;
    svg.append("circle").attr("cx", 331).attr("cy", yy).attr("r", d.r).style("fill", d.col);
    svg.append("text").attr("x", 353).attr("y", yy).attr("dy", "0.36em")
        .style("font-size", "19px").text(d.name);
});
svg.append("line").attr("x1", 455).attr("x2", 497).attr("y1", 683).attr("y2", 683)
    .style("stroke", "#000").style("stroke-width", 2.1);
svg.append("text").attr("x", 497).attr("y", 683).attr("dy", "0.36em")
    .style("font-size", "19px").text("XRB");
svg.append("line").attr("x1", 455).attr("x2", 497).attr("y1", 707).attr("y2", 707)
    .style("stroke", "#000").style("stroke-width", 2.1)
    .style("stroke-dasharray", "7,3.5");
var leg2 = svg.append("g").attr("transform", "translate(497," + (707 + 0.36 * 19) + ")");
richText(leg2, [
    {t: "min"}, {gap: 0.3}, {t: "log"}, {t: "L", it: true}, {t: "SX", s: 0.7, dy: 0.22}
], 19);
</script>
</body>
</html>
